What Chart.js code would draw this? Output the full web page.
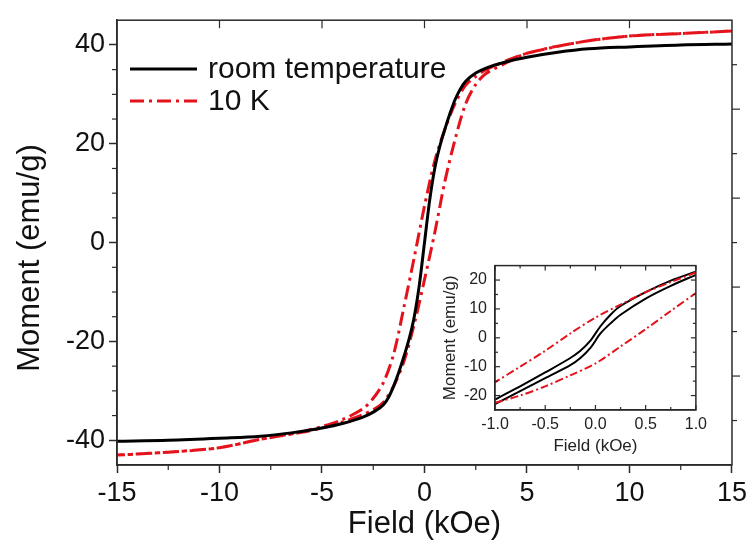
<!DOCTYPE html>
<html>
<head>
<meta charset="utf-8">
<script src="https://cdn.jsdelivr.net/npm/chart.js@4/dist/chart.umd.min.js"></script>
<style>
  html, body { margin: 0; padding: 0; background: #fff; }
  #wrap { position: relative; width: 751px; height: 548px; }
  #main { position: absolute; left: 0; top: 0; }
  #inset { position: absolute; left: 438px; top: 248px; }
</style>
</head>
<body>
<div id="wrap">
  <canvas id="main" width="751" height="548"></canvas>
  <canvas id="inset" width="274" height="214"></canvas>
</div>
<script>
// ---- main panel data (field in kOe, moment in emu/g) ----
const rtField  = [-15, -12.5, -10, -8, -6.5, -5, -4, -3, -2.5, -2, -1.75, -1.5, -1.25, -1, -0.75, -0.5, -0.25, 0,
                  0.25, 0.5, 0.75, 1, 1.25, 1.5, 1.75, 2, 2.5, 3, 4, 5, 6.5, 8, 10, 12.5, 15];
const rtMoment = [-40.2, -40, -39.6, -39.2, -38.5, -37.5, -36.6, -35.3, -34.3, -32.8, -31.3, -29, -26.2, -23, -19.5, -15, -8.5, 0,
                  8.5, 15, 19.5, 23, 26.2, 29, 31.1, 32.6, 34.3, 35.3, 36.6, 37.5, 38.5, 39.2, 39.6, 40, 40.2];

// 10 K loop: down branch (+15 -> -15) then up branch (-15 -> +15)
const k10Field  = [15, 12.5, 10, 7.5, 5, 4, 3, 2.5, 2, 1.5, 1, 0.5, 0, -0.5, -1, -1.5, -2, -2.5, -3, -4, -5, -6, -8, -10, -12.5, -15,
                   -12.5, -10, -8, -6, -5, -4, -3, -2.5, -2, -1.5, -1, -0.5, 0, 0.5, 1, 1.5, 2, 2.5, 3, 4, 5, 7.5, 10, 12.5, 15];
const k10Moment = [42.8, 42.3, 41.8, 40.5, 38.3, 36.8, 35, 33.6, 31.8, 28.2, 23, 16.5, 7.4, -3, -13, -22.5, -28.3, -31.5, -33.6, -35.8, -37.2, -38.3, -39.8, -41.5, -42.4, -43,
                   -42.4, -41.5, -39.8, -38.4, -37.5, -36.3, -34.8, -33.8, -32.3, -29, -24, -16.5, -7.5, 2, 12.5, 21, 28, 32, 34.2, 36.4, 38.3, 40.5, 41.8, 42.3, 42.8];

const xTicks = [-15, -10, -5, 0, 5, 10, 15];
const yTicks = [-40, -20, 0, 20, 40];

// ---- inset data (low-field zoom) ----
const inRtDownField  = [1, 0.75, 0.5, 0.25, 0.15, 0.05, -0.05, -0.15, -0.25, -0.5, -0.75, -1];
const inRtDownMoment = [22.9, 19.8, 15.8, 11, 8, 4, -1, -4.5, -7, -12, -16.8, -21.4];
const inRtUpField    = [-1, -0.75, -0.5, -0.25, -0.15, -0.05, 0.05, 0.15, 0.25, 0.5, 0.75, 1];
const inRtUpMoment   = [-23, -18.5, -14, -9.5, -7, -3.5, 1.5, 5, 8, 13.6, 18, 21.8];

const inK10DownField  = [1, 0.75, 0.5, 0.25, 0, -0.25, -0.5, -0.75, -1];
const inK10DownMoment = [22.6, 19.3, 15.8, 11.5, 7, 1.5, -4.5, -10, -15.4];
const inK10UpField    = [-1, -0.75, -0.5, -0.25, 0, 0.25, 0.5, 0.75, 1];
const inK10UpMoment   = [-22.5, -20, -16.8, -13, -8.9, -3, 3, 9.3, 15.5];

const inXTicks = [-1, -0.5, 0, 0.5, 1];
const inYTicks = [-20, -10, 0, 10, 20];

const FONT = "'Liberation Sans', Arial, sans-serif";
const FRAME = '#2a2a2a';
const RED = '#e3121b';

function pts(xs, ys) {
    return xs.map((x, i) => ({ x: x, y: ys[i] }));
}

// frame box + extra tick marks (minor / mirrored) placed with the chart's scales
function frameTicks(id, marks) {
    return {
        id: id,
        afterDraw(chart) {
            const ctx = chart.ctx, a = chart.chartArea;
            const xs = chart.scales.x, ys = chart.scales.y;
            ctx.save();
            ctx.strokeStyle = FRAME;
            ctx.lineWidth = 1.5;
            ctx.strokeRect(a.left, a.top, a.right - a.left, a.bottom - a.top);
            ctx.lineWidth = 1.2;
            marks.forEach(m => {
                m.values.forEach(v => {
                    ctx.beginPath();
                    if (m.side === 'bottom' || m.side === 'top') {
                        const px = xs.getPixelForValue(v);
                        const y0 = m.side === 'bottom' ? a.bottom : a.top;
                        const sgn = m.side === 'bottom' ? 1 : -1;
                        ctx.moveTo(px, y0);
                        ctx.lineTo(px, y0 + sgn * m.dir * m.len);
                    } else {
                        const py = ys.getPixelForValue(v);
                        const x0 = m.side === 'left' ? a.left : a.right;
                        const sgn = m.side === 'left' ? -1 : 1;
                        ctx.moveTo(x0, py);
                        ctx.lineTo(x0 + sgn * m.dir * m.len, py);
                    }
                    ctx.stroke();
                });
            });
            ctx.restore();
        }
    };
}

const legendItems = [
    { text: 'room temperature', color: '#000', dash: [] },
    { text: '10 K', color: RED, dash: [14, 5, 3, 5] }
];

// legend in the upper-left corner and the y title (sits a bit below centre)
const legendPlugin = {
    id: 'cornerLegend',
    afterDraw(chart) {
        const ctx = chart.ctx;
        ctx.save();
        legendItems.forEach((item, i) => {
            const y = 69 + i * 32;
            ctx.strokeStyle = item.color;
            ctx.lineWidth = 3;
            ctx.setLineDash(item.dash);
            ctx.beginPath();
            ctx.moveTo(130, y);
            ctx.lineTo(197, y);
            ctx.stroke();
            ctx.setLineDash([]);
            ctx.fillStyle = '#111';
            ctx.font = '30px ' + FONT;
            ctx.textBaseline = 'middle';
            ctx.textAlign = 'left';
            ctx.fillText(item.text, 208, y + 1);
        });
        ctx.translate(30, 258);
        ctx.rotate(-Math.PI / 2);
        ctx.font = '31px ' + FONT;
        ctx.textAlign = 'center';
        ctx.textBaseline = 'middle';
        ctx.fillText('Moment (emu/g)', 0, 0);
        ctx.restore();
    }
};

// main panel
new Chart(document.getElementById('main'), {
    type: 'scatter',
    data: {
        datasets: [
            {
                label: 'room temperature',
                data: pts(rtField, rtMoment),
                showLine: true,
                borderColor: '#000',
                borderWidth: 3,
                pointRadius: 0,
                cubicInterpolationMode: 'monotone'
            },
            {
                label: '10 K',
                data: pts(k10Field, k10Moment),
                showLine: true,
                borderColor: RED,
                borderWidth: 3,
                borderDash: [14, 5, 3, 5],
                pointRadius: 0,
                tension: 0.3
            }
        ]
    },
    options: {
        responsive: false,
        animation: false,
        layout: { padding: { top: 10, right: 16, left: 0, bottom: 0 } },
        scales: {
            x: {
                type: 'linear',
                min: -15,
                max: 15,
                afterBuildTicks: s => { s.ticks = xTicks.map(v => ({ value: v })); },
                afterFit: s => { s.height = 83; },
                grid: { drawOnChartArea: false, tickLength: 8, tickColor: FRAME, tickWidth: 1.5 },
                border: { color: FRAME, width: 1.5 },
                ticks: { color: '#111', font: { family: FONT, size: 27 }, padding: 4, maxRotation: 0 },
                title: { display: true, text: 'Field (kOe)', color: '#111', font: { family: FONT, size: 31 }, padding: { top: 5, bottom: 5 } }
            },
            y: {
                type: 'linear',
                min: -45,
                max: 45,
                afterBuildTicks: s => { s.ticks = yTicks.map(v => ({ value: v })); },
                afterFit: s => { s.width = 117; },
                grid: { drawOnChartArea: false, tickLength: 8, tickColor: FRAME, tickWidth: 1.5 },
                border: { color: FRAME, width: 1.5 },
                ticks: { color: '#111', font: { family: FONT, size: 27 }, padding: 4 },
                title: { display: false }
            }
        },
        plugins: {
            legend: { display: false },
            tooltip: { enabled: false }
        }
    },
    plugins: [
        frameTicks('mainTicks', [
            { side: 'bottom', values: [-12.5, -7.5, -2.5, 2.5, 7.5, 12.5], len: 5, dir: 1 },
            { side: 'left', values: [35, 30, 25, 15, 10, 5, -5, -10, -15, -25, -30, -35], len: 5, dir: 1 },
            { side: 'top', values: [-10, -5, 0, 5, 10], len: 8, dir: -1 },
            { side: 'right', values: [-27, -9, 9, 27], len: 8, dir: 1 },
            { side: 'right', values: [-36, -18, 0, 18, 36], len: 5, dir: 1 }
        ]),
        legendPlugin
    ]
});

// inset panel
const insetLine = (xs, ys, color, dash) => ({
    data: pts(xs, ys),
    showLine: true,
    borderColor: color,
    borderWidth: 2,
    borderDash: dash,
    pointRadius: 0,
    tension: 0.3
});

new Chart(document.getElementById('inset'), {
    type: 'scatter',
    data: {
        datasets: [
            insetLine(inK10DownField, inK10DownMoment, RED, [8, 3, 2, 3]),
            insetLine(inK10UpField, inK10UpMoment, RED, [8, 3, 2, 3]),
            insetLine(inRtDownField, inRtDownMoment, '#000', []),
            insetLine(inRtUpField, inRtUpMoment, '#000', [])
        ]
    },
    options: {
        responsive: false,
        animation: false,
        layout: { padding: { top: 7, right: 8, left: 0, bottom: 0 } },
        scales: {
            x: {
                type: 'linear',
                min: -1,
                max: 1,
                afterBuildTicks: s => { s.ticks = inXTicks.map(v => ({ value: v })); },
                afterFit: s => { s.height = 52; },
                grid: { display: true, drawOnChartArea: false, drawTicks: false },
                border: { color: FRAME, width: 1.2 },
                ticks: { color: '#222', font: { family: FONT, size: 16 }, padding: 5, maxRotation: 0, callback: v => v.toFixed(1) },
                title: { display: true, text: 'Field (kOe)', color: '#222', font: { family: FONT, size: 17 }, padding: { top: 5, bottom: 5 } }
            },
            y: {
                type: 'linear',
                min: -25,
                max: 25,
                afterBuildTicks: s => { s.ticks = inYTicks.map(v => ({ value: v })); },
                afterFit: s => { s.width = 57; },
                grid: { display: true, drawOnChartArea: false, drawTicks: false },
                border: { color: FRAME, width: 1.2 },
                ticks: { color: '#222', font: { family: FONT, size: 16 }, padding: 8 },
                title: { display: true, text: 'Moment (emu/g)', color: '#222', font: { family: FONT, size: 17 }, padding: { top: 2, bottom: 2 } }
            }
        },
        plugins: {
            legend: { display: false },
            tooltip: { enabled: false }
        }
    },
    plugins: [
        frameTicks('insetTicks', [
            { side: 'bottom', values: inXTicks, len: 5, dir: -1 },
            { side: 'top', values: inXTicks, len: 5, dir: -1 },
            { side: 'bottom', values: [-0.75, -0.25, 0.25, 0.75], len: 3, dir: -1 },
            { side: 'top', values: [-0.75, -0.25, 0.25, 0.75], len: 3, dir: -1 },
            { side: 'left', values: inYTicks, len: 5, dir: -1 },
            { side: 'right', values: inYTicks, len: 5, dir: -1 },
            { side: 'left', values: [-15, -5, 5, 15], len: 3, dir: -1 },
            { side: 'right', values: [-15, -5, 5, 15], len: 3, dir: -1 }
        ])
    ]
});
</script>
</body>
</html>
